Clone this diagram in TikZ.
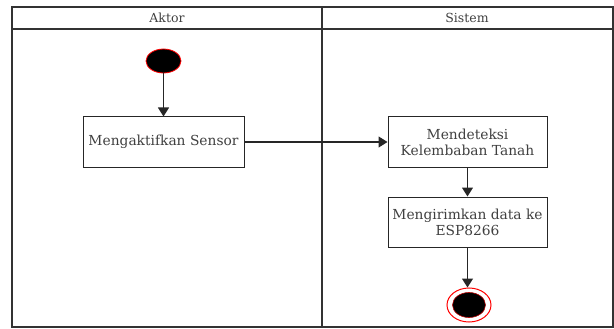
\documentclass[tikz,border=0pt]{standalone}
\usepackage{fontspec}
\setmainfont{DejaVu Serif}
\usetikzlibrary{arrows.meta,shapes.geometric}
\begin{document}
\begin{tikzpicture}[x=1pt,y=-1pt,
  frame/.style={draw=black!80,line width=1.3pt},
  actbox/.style={draw=black!85,line width=1pt,rectangle,minimum width=161pt,minimum height=50pt,align=center,font=\fontsize{13.8}{16}\selectfont,text=black!75,inner sep=2pt},
  flow/.style={draw=black!85,line width=1.2pt,-{Triangle[width=11pt,length=9pt]}},
  hdr/.style={font=\fontsize{12.5}{14}\selectfont,text=black!75}]
\useasboundingbox (0,0) rectangle (614,329);
% frame
\draw[frame] (12,7) rectangle (613,327);
\draw[frame] (12,29) -- (613,29);
\draw[frame] (322,7) -- (322,327);
\node[hdr] (h1) at (167,18) {Aktor};
\node[hdr] (h2) at (467,18) {Sistem};
% start
\node[ellipse,fill=black,draw=red,line width=0.8pt,minimum width=35pt,minimum height=24pt,inner sep=0pt] (start) at (163.5,61) {};
% activities
\node[actbox] (a1) at (163.5,142) {Mengaktifkan Sensor};
\node[actbox,minimum width=159pt] (a2) at (467.5,142) {Mendeteksi\\Kelembaban Tanah};
\node[actbox,minimum width=159pt] (a3) at (467.5,222) {Mengirimkan data ke\\ESP8266};
% end
\node[ellipse,draw=red,line width=1pt,minimum width=44pt,minimum height=34pt,inner sep=0pt,fill=white] (endo) at (469,305) {};
\node[ellipse,fill=black,draw=red!70!black,line width=0.6pt,minimum width=33pt,minimum height=25pt,inner sep=0pt] (endi) at (469,305) {};
% connectors
\draw[flow] (start) -- (a1);
\draw[flow] (a1) -- (a2);
\draw[flow] (a2) -- (a3);
\draw[flow] (a3.south) -- (endo.north -| a3.south);
\end{tikzpicture}
\end{document}
